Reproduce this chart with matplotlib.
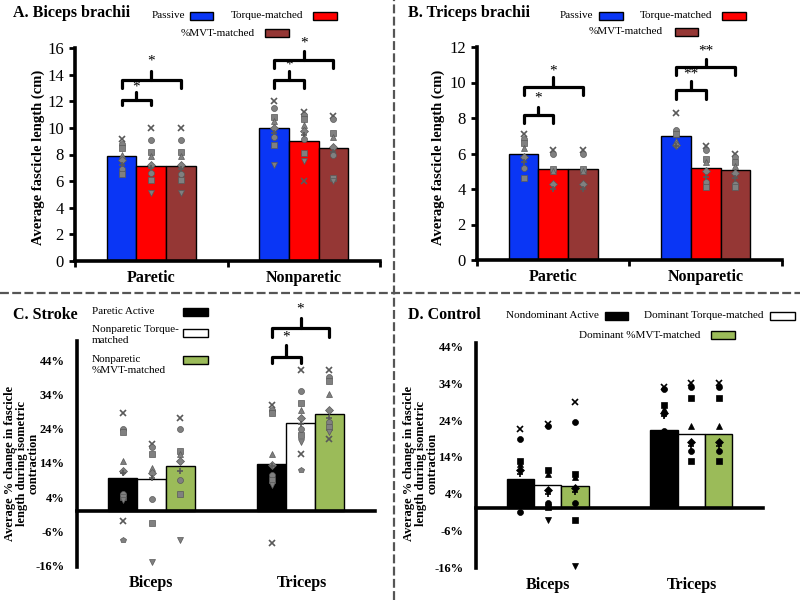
import matplotlib
matplotlib.use('Agg')
import matplotlib.pyplot as plt
from matplotlib.patches import Rectangle
from matplotlib.lines import Line2D
import numpy as np

plt.rcParams['font.family'] = ['Liberation Serif', 'DejaVu Serif']

# ---------------- data ----------------
groups_ab = ['Paretic', 'Nonparetic']
groups_cd = ['Biceps', 'Triceps']

# Panel A (biceps, cm)
a_passive = [7.9, 10.0]
a_torque = [7.1, 9.0]
a_mvt = [7.1, 8.5]
a_pts_passive = [[9.2, 8.8, 8.5, 8.0, 7.6, 7.2, 6.9, 6.5],
                 [12.0, 11.5, 10.8, 10.5, 10.0, 9.6, 9.3, 8.7, 7.2]]
a_pts_torque = [[10.0, 9.1, 8.2, 7.9, 7.2, 7.0, 6.6, 6.1, 5.1],
                [11.2, 11.0, 10.7, 10.2, 9.8, 9.5, 9.2, 8.1, 7.5, 6.0]]
a_pts_mvt = [[10.0, 9.1, 8.2, 7.9, 7.2, 6.9, 6.5, 6.1, 5.1],
             [10.9, 10.7, 9.6, 9.3, 8.6, 8.2, 8.0, 6.2, 6.0]]

# Panel B (triceps, cm)
b_passive = [6.0, 7.0]
b_torque = [5.1, 5.2]
b_mvt = [5.1, 5.05]
b_pts_passive = [[7.1, 6.8, 6.6, 6.3, 5.8, 5.5, 5.2, 4.6],
                 [8.3, 7.3, 7.1, 6.7, 6.5, 6.4]]
b_pts_torque = [[6.2, 6.0, 5.1, 5.0, 4.3, 4.0],
                [6.4, 6.2, 5.7, 5.5, 5.0, 4.7, 4.4, 4.1]]
b_pts_mvt = [[6.2, 6.0, 5.1, 5.0, 4.3, 4.0],
             [6.0, 5.8, 5.5, 5.3, 4.9, 4.6, 4.3, 4.1]]

# Panel C (stroke, % change)
c_active = [9.6, 13.7]
c_torque = [9.2, 25.7]
c_mvt = [13.1, 28.2]
c_pts_active = [[28.5, 24.0, 23.0, 14.5, 11.5, 11.0, 5.0, 4.0, 3.0, -3.0, -8.6],
                [31.0, 29.5, 28.5, 16.5, 13.5, 13.0, 10.5, 9.0, 7.5, -9.4]]
c_pts_torque = [[19.5, 18.5, 16.5, 12.5, 11.0, 9.5, 3.5, -3.5, -15.0],
                [41.0, 35.0, 31.5, 29.5, 27.0, 25.5, 24.0, 22.0, 20.0, 16.5, 12.0]]
c_pts_mvt = [[27.0, 24.0, 17.5, 16.5, 14.5, 11.5, 9.0, 5.0, -8.5],
             [41.0, 39.0, 38.0, 34.0, 29.5, 27.0, 26.0, 24.5, 23.0, 21.0]]

# Panel D (control, % change)
d_active = [7.9, 21.3]
d_torque = [6.4, 20.2]
d_mvt = [6.1, 20.2]
d_pts_active = [[21.5, 19.0, 13.0, 12.0, 10.5, 9.5, -1.0],
                [33.0, 32.5, 28.0, 27.0, 26.0, 25.0, 21.0, 14.5]]
d_pts_torque = [[23.0, 22.5, 10.5, 9.5, 5.0, 4.0, 1.5, 0.5, -3.0],
                [34.0, 33.0, 30.0, 22.5, 18.0, 17.0, 15.5, 13.0]]
d_pts_mvt = [[29.0, 23.5, 9.5, 8.5, 5.5, 4.5, 1.5, -3.0, -15.5],
             [34.0, 33.0, 30.0, 22.5, 18.0, 17.0, 15.5, 13.0]]

ab_ticks = [0, 2, 4, 6, 8, 10, 12, 14, 16]
b_ticks = [0, 2, 4, 6, 8, 10, 12]
cd_ticks = [-16, -6, 4, 14, 24, 34, 44]

# ---------------- styling ----------------
W, H = 800, 600
fig = plt.figure(figsize=(8, 6), dpi=100)
BLUE, RED, BROWN = '#0a36f5', '#ff0000', '#953735'
BLACK, WHITE, GREEN = '#000000', '#ffffff', '#9bbb59'
MARKERS = ['x', 'o', 's', '^', 'D', '+', 'o', 's', 'v', 'x', 'p']


def rect(x0, x1, ytop, ybot):
    return [x0 / W, 1 - ybot / H, (x1 - x0) / W, (ybot - ytop) / H]


def fx(x):
    return x / W


def fy(y):
    return 1 - y / H


def draw(ax, bars, colors, pts, w, mface, medge):
    x = np.arange(len(bars[0]))
    for k, (vals, col) in enumerate(zip(bars, colors)):
        ax.bar(x + (k - 1) * w, vals, w, color=col, edgecolor='black',
               linewidth=1, zorder=2)
    for k in range(3):
        for g in range(2):
            for j, v in enumerate(pts[k][g]):
                m = MARKERS[j % len(MARKERS)]
                ax.plot(g + (k - 1) * w, v, marker=m, markersize=4.3,
                        markerfacecolor=mface, markeredgecolor=medge,
                        markeredgewidth=1.2 if m in 'x+' else 0.5,
                        linestyle='none', zorder=3, clip_on=False)


def bracket(ax, x1, x2, y, ylegs, ytip, label, ystar, fs=11):
    xm = (x1 + x2) / 2
    ax.plot([x1, x1, x2, x2], [ylegs, y, y, ylegs], color='k', lw=2.3,
            solid_joinstyle='round', solid_capstyle='round', clip_on=False, zorder=4)
    ax.plot([xm, xm], [y, ytip], color='k', lw=2.3, solid_capstyle='round',
            clip_on=False, zorder=4)
    ax.text(xm, ystar, label, ha='center', va='center', fontsize=fs, zorder=4)


def legend_entry(text, x_text_end, y, px0, px1, color, ha='right'):
    if ha == 'right':
        fig.text(fx(x_text_end), fy(y), text, ha='right', va='center', fontsize=8)
    fig.patches.append(Rectangle((fx(px0), fy(y + 4)), fx(px1 - px0), (8 / H),
                                 transform=fig.transFigure, facecolor=color,
                                 edgecolor='black', linewidth=1))


def style_ab(ax, ylim, ticks):
    ax.set_xlim(-0.5, 1.5)
    ax.set_ylim(*ylim)
    for s in ['top', 'right']:
        ax.spines[s].set_visible(False)
    for s in ['left', 'bottom']:
        ax.spines[s].set_linewidth(2.6)
    ax.set_yticks(ticks)
    ax.set_yticklabels([str(t) for t in ticks], fontsize=12)
    ax.set_xticks([-0.5, 0.5, 1.5])
    ax.set_xticklabels([])
    ax.tick_params(axis='y', direction='out', length=4, width=2, pad=4)
    ax.tick_params(axis='x', direction='out', length=4, width=2)


def style_cd(ax, ylim, ticks):
    ax.set_xlim(-0.5, 1.5)
    ax.set_ylim(*ylim)
    for s in ['top', 'right']:
        ax.spines[s].set_visible(False)
    ax.spines['left'].set_linewidth(2.6)
    ax.spines['bottom'].set_linewidth(2.6)
    ax.spines['bottom'].set_position(('data', 0))
    ax.spines['bottom'].set_zorder(5)
    ax.set_yticks(ticks)
    ax.set_yticklabels([f'{t}%' for t in ticks], fontsize=9, fontweight='bold')
    ax.set_xticks([])
    ax.tick_params(axis='y', length=0, pad=9)


# ---------------- Panel A ----------------
wa = 0.194
axA = fig.add_axes(rect(75, 380, 48, 261))
draw(axA, [a_passive, a_torque, a_mvt], [BLUE, RED, BROWN],
     [a_pts_passive, a_pts_torque, a_pts_mvt], wa, '#808080', '#595959')
style_ab(axA, (0, 16), ab_ticks)
for i, g in enumerate(groups_ab):
    axA.text(i, -1.3, g, ha='center', va='center', fontsize=11.5, fontweight='bold')
bracket(axA, -wa, 0, 12.1, 11.7, 12.7, '*', 13.1)
bracket(axA, -wa, wa, 13.6, 13.0, 14.3, '*', 15.0)
bracket(axA, 1 - wa, 1, 13.6, 13.0, 14.3, '*', 14.7)
bracket(axA, 1 - wa, 1 + wa, 15.1, 14.5, 15.8, '*', 16.4)
fig.text(fx(38), fy(157), 'Average fascicle length (cm)', rotation=90,
         ha='center', va='center', fontsize=10.5, fontweight='bold')
fig.text(fx(13), fy(13), 'A. Biceps brachii', ha='left', va='center',
         fontsize=11.5, fontweight='bold')
legend_entry('Passive', 185, 16, 190, 213, BLUE)
legend_entry('Torque-matched', 303, 16, 313, 337, RED)
legend_entry('%MVT-matched', 255, 33, 265, 289, BROWN)

# ---------------- Panel B ----------------
axB = fig.add_axes(rect(477, 782, 47, 260))
draw(axB, [b_passive, b_torque, b_mvt], [BLUE, RED, BROWN],
     [b_pts_passive, b_pts_torque, b_pts_mvt], wa, '#808080', '#595959')
style_ab(axB, (0, 12), b_ticks)
for i, g in enumerate(groups_ab):
    axB.text(i, -0.95, g, ha='center', va='center', fontsize=11.5, fontweight='bold')
bracket(axB, -wa, 0, 8.17, 7.72, 8.62, '*', 9.1)
bracket(axB, -wa, wa, 9.75, 9.3, 10.3, '*', 10.65)
bracket(axB, 1 - wa, 1, 9.6, 9.05, 10.1, '**', 10.45)
bracket(axB, 1 - wa, 1 + wa, 10.85, 10.4, 11.35, '**', 11.75)
fig.text(fx(438), fy(157), 'Average fascicle length (cm)', rotation=90,
         ha='center', va='center', fontsize=10.5, fontweight='bold')
fig.text(fx(408), fy(13), 'B. Triceps brachii', ha='left', va='center',
         fontsize=11.5, fontweight='bold')
legend_entry('Passive', 593, 16, 599, 623, BLUE)
legend_entry('Torque-matched', 712, 16, 722, 746, RED)
legend_entry('%MVT-matched', 663, 32, 675, 698, BROWN)

# ---------------- Panel C ----------------
axC = fig.add_axes(rect(77, 375, 341.4, 566.5))
draw(axC, [c_active, c_torque, c_mvt], [BLACK, WHITE, GREEN],
     [c_pts_active, c_pts_torque, c_pts_mvt], wa, '#808080', '#595959')
style_cd(axC, (-16.3, 49.5), cd_ticks)
for i, g in enumerate(groups_cd):
    fig.text(fx([151, 302][i]), fy(583), g, ha='center', va='center',
             fontsize=11.5, fontweight='bold')
bracket(axC, 1 - wa, 1, 44.9, 43.1, 48.4, '*', 50.8)
bracket(axC, 1 - wa, 1 + wa, 53.4, 50.8, 56.3, '*', 58.9)
fig.text(fx(22), fy(463), 'Average % change in fascicle\nlength during isometric\ncontraction',
         rotation=90, ha='center', va='center', multialignment='center',
         fontsize=9, fontweight='bold', linespacing=1.0)
fig.text(fx(13), fy(315), 'C. Stroke', ha='left', va='center',
         fontsize=11.5, fontweight='bold')
fig.text(fx(92), fy(312), 'Paretic Active', ha='left', va='center', fontsize=8)
fig.text(fx(92), fy(335), 'Nonparetic Torque-\nmatched', ha='left', va='center',
         fontsize=8, linespacing=1.3)
fig.text(fx(92), fy(365), 'Nonparetic\n%MVT-matched', ha='left', va='center',
         fontsize=8, linespacing=1.3)
legend_entry('', 0, 312, 183, 208, BLACK, ha='none')
legend_entry('', 0, 333, 183, 208, WHITE, ha='none')
legend_entry('', 0, 360, 183, 208, GREEN, ha='none')

# ---------------- Panel D ----------------
axD = fig.add_axes(rect(476, 763, 342.9, 568.1))
draw(axD, [d_active, d_torque, d_mvt], [BLACK, WHITE, GREEN],
     [d_pts_active, d_pts_torque, d_pts_mvt], 0.19, '#000000', '#000000')
style_cd(axD, (-16.2, 45), cd_ticks)
for i, g in enumerate(groups_cd):
    fig.text(fx([548, 692][i]), fy(585), g, ha='center', va='center',
             fontsize=11.5, fontweight='bold')
fig.text(fx(421), fy(463), 'Average % change in fascicle\nlength during isometric\ncontraction',
         rotation=90, ha='center', va='center', multialignment='center',
         fontsize=9, fontweight='bold', linespacing=1.0)
fig.text(fx(408), fy(315), 'D. Control', ha='left', va='center',
         fontsize=11.5, fontweight='bold')
legend_entry('Nondominant Active', 599, 316, 605, 628, BLACK)
legend_entry('Dominant Torque-matched', 763, 316, 770, 795, WHITE)
legend_entry('Dominant %MVT-matched', 700, 335, 711, 735, GREEN)

# ---------------- separators ----------------
fig.add_artist(Line2D([0, 1], [fy(293), fy(293)], transform=fig.transFigure,
                      color='#555555', lw=1.6, linestyle=(0, (4, 1.5))))
fig.add_artist(Line2D([fx(394), fx(394)], [0, 1], transform=fig.transFigure,
                      color='#555555', lw=1.6, linestyle=(0, (4, 1.5))))

fig.savefig('out.png', dpi=100, facecolor='white')
